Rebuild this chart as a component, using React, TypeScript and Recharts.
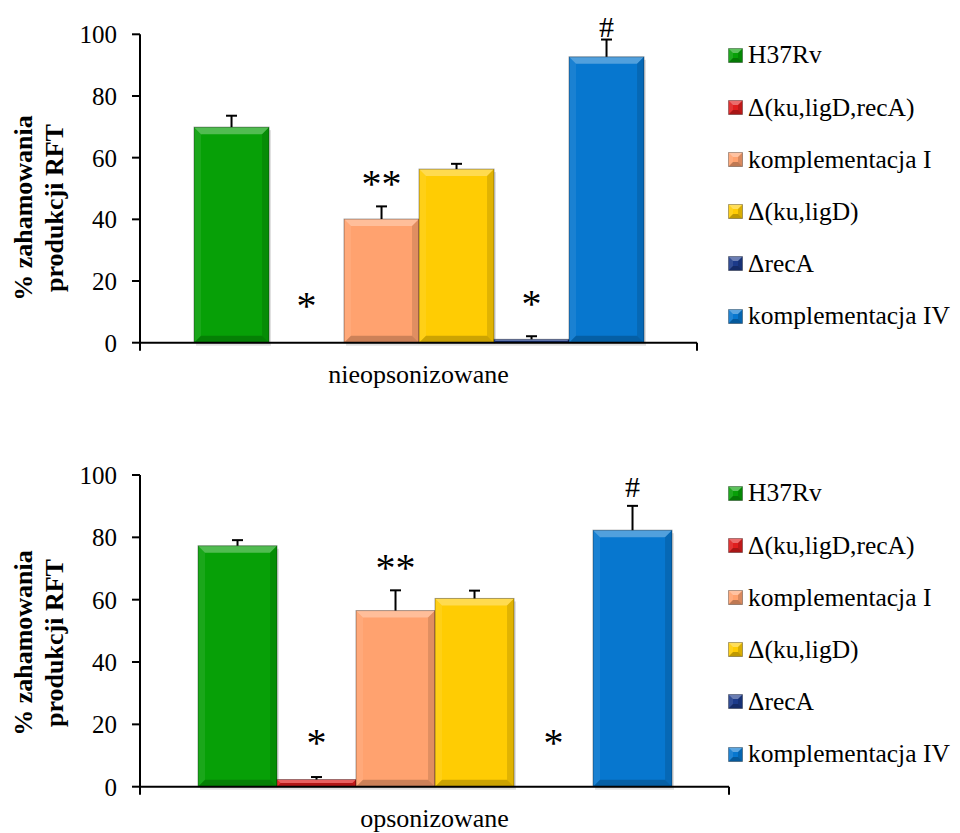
import React from 'react';
import { BarChart, Bar, XAxis, YAxis, LabelList, Legend } from 'recharts';

const FONT = "'Liberation Serif', Tinos, 'Times New Roman', 'Nimbus Roman', 'DejaVu Serif', serif";

const strains = ['H37Rv', 'Δ(ku,ligD,recA)', 'komplementacja I', 'Δ(ku,ligD)', 'ΔrecA', 'komplementacja IV'];
const strainColors = ['#07A007', '#E01E1E', '#FFA26F', '#FFCC03', '#1C3A8A', '#0777CF'];
const yTicks = [0, 20, 40, 60, 80, 100];

// panel 1 - nieopsonizowane
const topGroup = 'nieopsonizowane';
const topValues = [69.9, 0, 40.1, 56.3, 1.1, 92.7];
const topErrors = [3.7, 0, 4.1, 1.7, 1, 5.6];
const topMarks = ['', '*', '**', '', '*', '#'];
const topMarkLevels = [0, 13.9, 53.5, 0, 14.5, 102.5];

// panel 2 - opsonizowane
const bottomGroup = 'opsonizowane';
const bottomValues = [77.3, 2.3, 56.5, 60.4, 0, 82.3];
const bottomErrors = [1.8, 0.8, 6.5, 2.5, 0, 7.8];
const bottomMarks = ['', '*', '**', '', '*', '#'];
const bottomMarkLevels = [0, 16, 72, 0, 16, 96];

const buildRows = (group: string, values: number[], errors: number[]) => {
  const row: any = { group };
  values.forEach((v, i) => {
    row[`v${i}`] = v;
    row[`e${i}`] = errors[i];
  });
  return [row];
};

const bevelPolys = (x: number, y: number, w: number, h: number, b: number) => ({
  top: `${x},${y} ${x + w},${y} ${x + w - b},${y + b} ${x + b},${y + b}`,
  left: `${x},${y} ${x + b},${y + b} ${x + b},${y + h - b} ${x},${y + h}`,
  right: `${x + w},${y} ${x + w},${y + h} ${x + w - b},${y + h - b} ${x + w - b},${y + b}`,
  bottom: `${x},${y + h} ${x + b},${y + h - b} ${x + w - b},${y + h - b} ${x + w},${y + h}`,
});

const BevelBar = (props: any) => {
  const { x, y, width: w, height: h, fill } = props;
  if (!h || h <= 0) return null;
  const b = Math.min(7, h / 2, w / 2);
  const p = bevelPolys(x, y, w, h, b);
  return (
    <g>
      <rect x={x + 2} y={y + 3} width={w} height={h} fill="#000" fillOpacity={0.12} />
      <rect x={x} y={y} width={w} height={h} fill={fill} />
      <polygon points={p.top} fill="#fff" fillOpacity={0.3} />
      <polygon points={p.left} fill="#fff" fillOpacity={0.08} />
      <polygon points={p.right} fill="#000" fillOpacity={0.12} />
      <polygon points={p.bottom} fill="#000" fillOpacity={0.2} />
      <rect x={x} y={y} width={w} height={h} fill="none" stroke="#000" strokeOpacity={0.35} strokeWidth={1} />
    </g>
  );
};

const BevelSquare = ({ color }: { color: string }) => {
  const p = bevelPolys(0.5, 0.5, 14, 14, 4.5);
  return (
    <svg width={15} height={15} style={{ display: 'block', flex: 'none' }}>
      <rect x={0.5} y={0.5} width={14} height={14} fill={color} />
      <polygon points={p.top} fill="#fff" fillOpacity={0.35} />
      <polygon points={p.left} fill="#fff" fillOpacity={0.1} />
      <polygon points={p.right} fill="#000" fillOpacity={0.15} />
      <polygon points={p.bottom} fill="#000" fillOpacity={0.25} />
      <rect x={0.5} y={0.5} width={14} height={14} fill="none" stroke="#000" strokeOpacity={0.3} />
    </svg>
  );
};

const LegendBox = ({ payload }: any) => {
  const colorOf = new Map((payload || []).map((p: any) => [p.value, p.color]));
  return (
    <div>
      {strains.map((s, i) => (
        <div key={s} style={{ height: 52.2, display: 'flex', alignItems: 'center' }}>
          <BevelSquare color={(colorOf.get(s) as string) || strainColors[i]} />
          <span style={{ marginLeft: 5, fontFamily: FONT, fontSize: 25.5, lineHeight: 1, color: '#000', whiteSpace: 'nowrap' }}>{s}</span>
        </div>
      ))}
    </div>
  );
};

// upper half of the error bar only (Excel "plus" direction)
const errorLabel = (ppu: number) => (p: any) => {
  const err = Number(p.value);
  if (!err) return null;
  const vb = p.viewBox ?? p;
  const cx = vb.x + vb.width / 2;
  const y0 = vb.y;
  const y1 = y0 - err * ppu;
  return (
    <g stroke="#000" strokeWidth={2}>
      <line x1={cx} y1={y0} x2={cx} y2={y1} />
      <line x1={cx - 5.5} y1={y1} x2={cx + 5.5} y2={y1} />
    </g>
  );
};

const markLabel = (mark: string, level: number, ppu: number) => (p: any) => {
  if (!mark) return null;
  const vb = p.viewBox ?? p;
  const cx = vb.x + vb.width / 2;
  const base = vb.y + vb.height;
  const cy = base - level * ppu;
  const star = mark.includes('*');
  return (
    <text x={cx} y={cy + (star ? 19 : 10)} textAnchor="middle" fontFamily={FONT} fontSize={star ? 40 : 30} fill="#000">
      {mark}
    </text>
  );
};

const YTitle = ({ cy }: { cy: number }) => (
  <g fontFamily={FONT} fontSize={26} fontWeight="bold" fill="#000">
    <text x={32} y={cy} transform={`rotate(-90 32 ${cy})`} textAnchor="middle">% zahamowania</text>
    <text x={63} y={cy} transform={`rotate(-90 63 ${cy})`} textAnchor="middle">produkcji RFT</text>
  </g>
);

interface PanelProps {
  top: number;
  height: number;
  plotTop: number;
  plotBottom: number;
  plotRight: number;
  gap: string;
  group: string;
  values: number[];
  errors: number[];
  marks: string[];
  markLevels: number[];
  titleY: number;
  legendTop: number;
}

const Panel: React.FC<PanelProps> = ({ top, height, plotTop, plotBottom, plotRight, gap, group, values, errors, marks, markLevels, titleY, legendTop }) => {
  const data = buildRows(group, values, errors);
  const ppu = (plotBottom - plotTop) / 100;
  const plotWidth = plotRight - 140;

  const CategoryTick = (p: any) => (
    <g>
      <line x1={p.x - plotWidth / 2} y1={p.y} x2={p.x - plotWidth / 2} y2={p.y + 8} stroke="#000" strokeWidth={2} />
      <line x1={p.x + plotWidth / 2} y1={p.y} x2={p.x + plotWidth / 2} y2={p.y + 8} stroke="#000" strokeWidth={2} />
      <text x={p.x} y={p.y + 40} textAnchor="middle" fontFamily={FONT} fontSize={26} fill="#000">
        {p.payload.value}
      </text>
    </g>
  );

  return (
    <div style={{ position: 'absolute', left: 0, top, width: 960, height }}>
      <BarChart
        width={960}
        height={height}
        data={data}
        margin={{ top: plotTop, right: 960 - plotRight, bottom: 0, left: 0 }}
        barCategoryGap={gap}
        barGap={0}
      >
        <XAxis
          dataKey="group"
          height={height - plotBottom}
          axisLine={{ stroke: '#000', strokeWidth: 2 }}
          tickLine={false}
          tickSize={0}
          tickMargin={0}
          tick={CategoryTick}
        />
        <YAxis
          width={140}
          domain={[0, 100]}
          ticks={yTicks}
          axisLine={{ stroke: '#000', strokeWidth: 2 }}
          tickLine={{ stroke: '#000', strokeWidth: 2 }}
          tickSize={8}
          tickMargin={15}
          tick={{ fontFamily: FONT, fontSize: 25, fill: '#000' }}
          label={() => <YTitle cy={titleY} />}
        />
        <Legend
          layout="vertical"
          align="center"
          verticalAlign="middle"
          wrapperStyle={{ left: 728, top: legendTop, width: 232, height: 'auto' }}
          content={(p: any) => <LegendBox payload={p.payload} />}
        />
        {strains.map((s, i) => (
          <Bar key={s} dataKey={`v${i}`} name={s} fill={strainColors[i]} shape={BevelBar} isAnimationActive={false}>
            <LabelList dataKey={`e${i}`} content={errorLabel(ppu)} />
            <LabelList dataKey={`v${i}`} content={markLabel(marks[i], markLevels[i], ppu)} />
          </Bar>
        ))}
      </BarChart>
    </div>
  );
};

export default function App() {
  return (
    <div style={{ position: 'absolute', left: 0, top: 0, width: 960, height: 833, background: '#fff' }}>
      <Panel
        top={0}
        height={420}
        plotTop={34.3}
        plotBottom={342.7}
        plotRight={697}
        gap="9.7%"
        group={topGroup}
        values={topValues}
        errors={topErrors}
        marks={topMarks}
        markLevels={topMarkLevels}
        titleY={208}
        legendTop={29}
      />
      <Panel
        top={440}
        height={393}
        plotTop={35}
        plotBottom={346.7}
        plotRight={729}
        gap="9.85%"
        group={bottomGroup}
        values={bottomValues}
        errors={bottomErrors}
        marks={bottomMarks}
        markLevels={bottomMarkLevels}
        titleY={203}
        legendTop={27}
      />
    </div>
  );
}
